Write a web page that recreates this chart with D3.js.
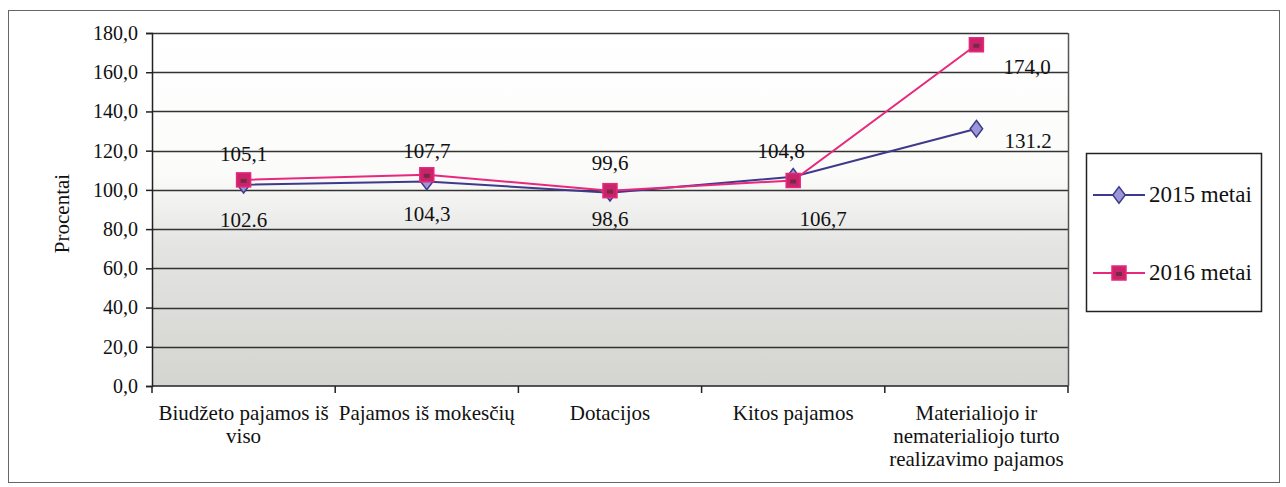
<!DOCTYPE html>
<html>
<head>
<meta charset="utf-8">
<script src="https://cdn.jsdelivr.net/npm/d3@7"></script>
<style>
  body { margin: 0; background: #fff; }
  svg text { font-family: "Liberation Serif", "Times New Roman", serif !important; }
</style>
</head>
<body>
<svg id="chart" width="1286" height="487"></svg>
<script>
// chart data
const categories = [
  ["Biudžeto pajamos iš", "viso"],
  ["Pajamos iš mokesčių"],
  ["Dotacijos"],
  ["Kitos pajamos"],
  ["Materialiojo ir", "nematerialiojo turto", "realizavimo pajamos"]
];
const values2015 = [102.6, 104.3, 98.6, 106.7, 131.2];
const values2016 = [105.1, 107.7, 99.6, 104.8, 174.0];
// label text as printed on the chart
const labels2015 = ["102.6", "104,3", "98,6", "106,7", "131.2"];
const labels2016 = ["105,1", "107,7", "99,6", "104,8", "174,0"];
const yTicks = [0, 20, 40, 60, 80, 100, 120, 140, 160, 180];

const svg = d3.select("#chart");
const margin = { left: 152, top: 33, right: 1068, bottom: 386 };

// outer frame
svg.append("rect")
  .attr("x", 8.5).attr("y", 10.5)
  .attr("width", 1271).attr("height", 472)
  .attr("fill", "#fff").attr("stroke", "#666").attr("stroke-width", 1);

const x = d3.scaleBand()
  .domain(d3.range(categories.length))
  .range([margin.left, margin.right]);
const y = d3.scaleLinear()
  .domain([0, 180])
  .range([margin.bottom, margin.top]);

// plot background gradient
const defs = svg.append("defs");
const grad = defs.append("linearGradient")
  .attr("id", "bg").attr("x1", 0).attr("y1", 0).attr("x2", 0).attr("y2", 1);
grad.append("stop").attr("offset", "0%").attr("stop-color", "#ffffff");
grad.append("stop").attr("offset", "40%").attr("stop-color", "#fbfbfa");
grad.append("stop").attr("offset", "60%").attr("stop-color", "#e4e4e2");
grad.append("stop").attr("offset", "100%").attr("stop-color", "#d4d4d1");

svg.append("rect")
  .attr("x", margin.left).attr("y", margin.top)
  .attr("width", margin.right - margin.left)
  .attr("height", margin.bottom - margin.top)
  .attr("fill", "url(#bg)");

// gridlines
svg.append("g")
  .selectAll("line")
  .data(yTicks.filter(d => d > 0))
  .enter().append("line")
  .attr("x1", margin.left).attr("x2", margin.right)
  .attr("y1", d => Math.round(y(d)) + 0.5).attr("y2", d => Math.round(y(d)) + 0.5)
  .attr("stroke", "#333").attr("stroke-width", 1.5);

// right border of plot
svg.append("line")
  .attr("x1", margin.right + 0.5).attr("x2", margin.right + 0.5)
  .attr("y1", margin.top).attr("y2", margin.bottom)
  .attr("stroke", "#555").attr("stroke-width", 1.5);

// y axis
const yAxis = svg.append("g")
  .attr("transform", `translate(${margin.left},0)`)
  .call(d3.axisLeft(y).tickValues(yTicks).tickSize(6).tickPadding(8)
    .tickFormat(d => d3.format(".1f")(d).replace(".", ",")));
yAxis.selectAll("text").attr("font-size", 20).attr("fill", "#111");
yAxis.selectAll("line, path").attr("stroke", "#222").attr("stroke-width", 1.5);

// x axis
const xAxis = svg.append("g")
  .attr("transform", `translate(0,${margin.bottom})`);
xAxis.append("line")
  .attr("x1", margin.left).attr("x2", margin.right)
  .attr("stroke", "#222").attr("stroke-width", 1.5);
xAxis.selectAll(".tk")
  .data(d3.range(categories.length + 1))
  .enter().append("line")
  .attr("x1", i => i < categories.length ? x(i) : x(i - 1) + x.bandwidth())
  .attr("x2", i => i < categories.length ? x(i) : x(i - 1) + x.bandwidth())
  .attr("y1", 0).attr("y2", 7)
  .attr("stroke", "#222").attr("stroke-width", 1.5);

const catText = xAxis.selectAll(".cat")
  .data(categories)
  .enter().append("text")
  .attr("text-anchor", "middle")
  .attr("font-size", 21)
  .attr("fill", "#111");
catText.selectAll("tspan")
  .data((d, i) => d.map(line => ({ line, i })))
  .enter().append("tspan")
  .attr("x", d => x(d.i) + x.bandwidth() / 2)
  .attr("y", (d, j) => 34 + j * 23)
  .text(d => d.line);

// axis title
svg.append("text")
  .attr("transform", `translate(69,${(margin.top + margin.bottom) / 2 + 4}) rotate(-90)`)
  .attr("text-anchor", "middle")
  .attr("font-size", 21)
  .attr("fill", "#111")
  .text("Procentai");

const cx = i => x(i) + x.bandwidth() / 2;
const line = d3.line().x((d, i) => cx(i)).y(d => y(d));

const blue = "#3d3a8c", pink = "#e8287c";

// series lines
svg.append("path").datum(values2015)
  .attr("d", line).attr("fill", "none")
  .attr("stroke", blue).attr("stroke-width", 2);
svg.append("path").datum(values2016)
  .attr("d", line).attr("fill", "none")
  .attr("stroke", pink).attr("stroke-width", 2);

// markers
const diamond = d3.symbol().type(d3.symbolDiamond).size(110);
function drawDiamond(g, px, py) {
  g.append("path")
    .attr("d", diamond())
    .attr("transform", `translate(${px},${py}) scale(1.1,0.85)`)
    .attr("fill", "#9c96d8").attr("stroke", blue).attr("stroke-width", 1.5);
}
function drawSquare(g, px, py) {
  g.append("rect")
    .attr("x", px - 7).attr("y", py - 7).attr("width", 14).attr("height", 14)
    .attr("fill", "#c8246a").attr("stroke", "#e8287c").attr("stroke-width", 1.5);
  g.append("rect")
    .attr("x", px - 3).attr("y", py - 1).attr("width", 6).attr("height", 4)
    .attr("fill", "#5a2a3a").attr("opacity", 0.7);
}

const marks = svg.append("g");
values2015.forEach((v, i) => drawDiamond(marks, cx(i), y(v)));
values2016.forEach((v, i) => drawSquare(marks, cx(i), y(v)));

// data labels (offsets relative to each point)
const off2016 = [[0, -19], [0, -17], [0, -21], [-12, -22], [27, 29]];
const off2015 = [[0, 42], [0, 40], [0, 33], [30, 49], [28, 19]];
const lbl = svg.append("g").attr("font-size", 21).attr("fill", "#111");
const last = categories.length - 1;
labels2016.forEach((t, i) => {
  lbl.append("text")
    .attr("x", cx(i) + off2016[i][0])
    .attr("y", y(values2016[i]) + off2016[i][1])
    .attr("text-anchor", i === last ? "start" : "middle")
    .text(t);
});
labels2015.forEach((t, i) => {
  lbl.append("text")
    .attr("x", cx(i) + off2015[i][0])
    .attr("y", y(values2015[i]) + off2015[i][1])
    .attr("text-anchor", i === last ? "start" : "middle")
    .text(t);
});

// legend
const lg = svg.append("g");
lg.append("rect")
  .attr("x", 1086.5).attr("y", 153.5).attr("width", 175).attr("height", 158)
  .attr("fill", "#fff").attr("stroke", "#222").attr("stroke-width", 1.5);
const legendItems = [
  { name: "2015 metai", color: blue, y: 195, draw: drawDiamond },
  { name: "2016 metai", color: pink, y: 273, draw: drawSquare }
];
legendItems.forEach(d => {
  lg.append("line")
    .attr("x1", 1093).attr("x2", 1145).attr("y1", d.y).attr("y2", d.y)
    .attr("stroke", d.color).attr("stroke-width", 2);
  d.draw(lg, 1119, d.y);
  lg.append("text")
    .attr("x", 1149).attr("y", d.y + 7)
    .attr("font-size", 23).attr("fill", "#111")
    .text(d.name);
});
</script>
</body>
</html>
